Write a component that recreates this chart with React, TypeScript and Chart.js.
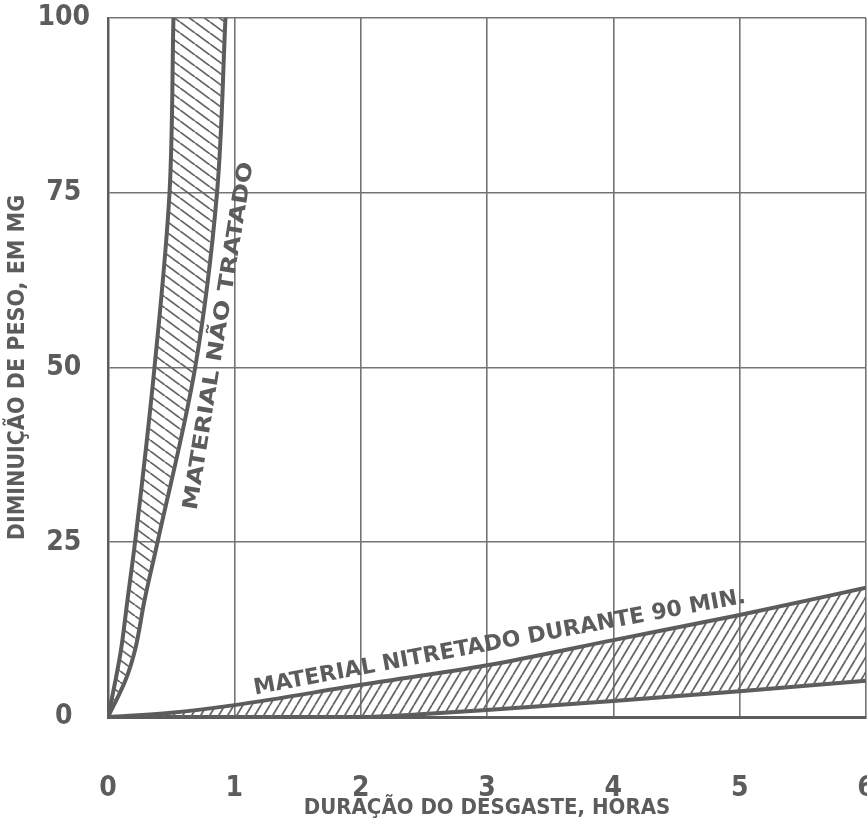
import React, { useEffect, useRef } from "react";
import { Chart, registerables } from "chart.js";

Chart.register(...registerables);

// ---- data ----
const xTickValues = [0, 1, 2, 3, 4, 5, 6];
const yTickValues = [0, 25, 50, 75, 100];

// "Material não tratado" band: steep edge and outer edge (x = hours, y = mg)
const untreatedSteep = [
  { x: 0, y: 0 },
  { x: 0.06, y: 5.3 },
  { x: 0.103, y: 9.6 },
  { x: 0.154, y: 16.7 },
  { x: 0.214, y: 25 },
  { x: 0.368, y: 50 },
  { x: 0.487, y: 75 },
  { x: 0.518, y: 100 },
];
const untreatedOuter = [
  { x: 0, y: 0 },
  { x: 0.139, y: 5.3 },
  { x: 0.214, y: 9.6 },
  { x: 0.289, y: 16.7 },
  { x: 0.392, y: 25 },
  { x: 0.69, y: 50 },
  { x: 0.863, y: 75 },
  { x: 0.93, y: 100 },
];

// "Material nitretado durante 90 min" band
const nitridedUpper = [
  { x: 0, y: 0 },
  { x: 0.5, y: 0.6 },
  { x: 1, y: 1.7 },
  { x: 2, y: 4.6 },
  { x: 3, y: 7.4 },
  { x: 4, y: 11.0 },
  { x: 5, y: 14.6 },
  { x: 6, y: 18.5 },
];
const nitridedLower = [
  { x: 0, y: 0 },
  { x: 2, y: 0 },
  { x: 2.47, y: 0.4 },
  { x: 3, y: 1.0 },
  { x: 4, y: 2.3 },
  { x: 5, y: 3.7 },
  { x: 6, y: 5.2 },
];

const xTitle = "DURAÇÃO DO DESGASTE, HORAS";
const yTitle = "DIMINUIÇÃO DE PESO, EM MG";
const labelUntreated = "MATERIAL NÃO TRATADO";
const labelNitrided = "MATERIAL NITRETADO DURANTE 90 MIN.";

// ---- styles ----
const INK = "#5c5c5c";
const GRID = "#747474";
const FONT = "'Liberation Sans Narrow', 'DejaVu Sans Condensed', 'Roboto', sans-serif";

const bandLabels = [
  { text: labelUntreated, x: 0.88, y: 54.5, angle: -80.8, width: 352, size: 21 },
  { text: labelNitrided, x: 3.1, y: 10.6, angle: -10.6, width: 500, size: 22 },
];

function makeHatch(w: number, h: number, dir: number) {
  const c = document.createElement("canvas");
  c.width = w;
  c.height = h;
  const g = c.getContext("2d")!;
  g.strokeStyle = "#666666";
  g.lineWidth = 1.8;
  g.beginPath();
  for (const k of [-w, 0, w]) {
    if (dir > 0) {
      g.moveTo(k, h);
      g.lineTo(k + w, 0);
    } else {
      g.moveTo(k, 0);
      g.lineTo(k + w, h);
    }
  }
  g.stroke();
  return g.createPattern(c, "repeat")!;
}

const labelPlugin = {
  id: "bandLabels",
  afterDatasetsDraw(chart: any) {
    const { ctx, scales } = chart;
    const xs = scales.x;
    const ys = scales.y;
    for (const a of bandLabels) {
      const px = xs.getPixelForValue(a.x);
      const py = ys.getPixelForValue(a.y);
      ctx.save();
      ctx.translate(px, py);
      ctx.rotate((a.angle * Math.PI) / 180);
      ctx.font = `bold ${a.size}px ${FONT}`;
      ctx.fillStyle = INK;
      ctx.textAlign = "center";
      ctx.textBaseline = "middle";
      const m = ctx.measureText(a.text).width;
      ctx.scale(a.width / m, 1);
      ctx.fillText(a.text, 0, 0);
      ctx.restore();
    }
  },
};

export default function App() {
  const ref = useRef<HTMLCanvasElement | null>(null);

  useEffect(() => {
    if (!ref.current) return;
    const hatchBack = makeHatch(15, 11, -1);
    const hatchFwd = makeHatch(9, 15, 1);

    const lineBase = {
      borderColor: INK,
      borderWidth: 4,
      pointRadius: 0,
      cubicInterpolationMode: "monotone" as const,
    };

    const chart = new Chart(ref.current, {
      type: "line",
      data: {
        datasets: [
          {
            ...lineBase,
            indexAxis: "y",
            label: "steep",
            data: untreatedSteep,
            fill: "+1",
            backgroundColor: hatchBack,
          },
          { ...lineBase, indexAxis: "y", label: "outer", data: untreatedOuter, fill: false },
          {
            ...lineBase,
            label: "nitUpper",
            data: nitridedUpper,
            fill: "+1",
            backgroundColor: hatchFwd,
          },
          { ...lineBase, label: "nitLower", data: nitridedLower, fill: false },
        ] as any,
      },
      options: {
        animation: false,
        responsive: false,
        devicePixelRatio: 1,
        layout: { autoPadding: false, padding: { left: 0, top: 18, right: 24, bottom: 0 } },
        plugins: { legend: { display: false }, tooltip: { enabled: false } },
        scales: {
          x: {
            type: "linear",
            min: 0,
            max: 6,
            afterBuildTicks: (s: any) => {
              s.ticks = xTickValues.map((v) => ({ value: v }));
            },
            afterFit: (s: any) => {
              s.height = 114;
              s.paddingLeft = 0;
              s.paddingRight = 0;
            },
            grid: { color: GRID, lineWidth: 1.6, drawTicks: false },
            border: { color: INK, width: 3 },
            ticks: {
              color: INK,
              padding: 55,
              font: { family: FONT, size: 28, weight: "bold" },
            },
            title: {
              display: true,
              text: xTitle,
              color: INK,
              padding: { top: 0, bottom: 10 },
              font: { family: FONT, size: 22, weight: "bold" },
            },
          },
          y: {
            type: "linear",
            min: 0,
            max: 100,
            afterBuildTicks: (s: any) => {
              s.ticks = yTickValues.map((v) => ({ value: v }));
            },
            afterFit: (s: any) => {
              s.width = 108;
              s.paddingTop = 0;
              s.paddingBottom = 0;
            },
            grid: { color: GRID, lineWidth: 1.6, drawTicks: false },
            border: { color: INK, width: 2.5 },
            ticks: {
              color: INK,
              padding: 18,
              crossAlign: "center",
              font: { family: FONT, size: 28, weight: "bold" },
            },
            title: {
              display: true,
              text: yTitle,
              color: INK,
              padding: { top: 4, bottom: 0 },
              font: { family: FONT, size: 23, weight: "bold" },
            },
          },
        },
      },
      plugins: [labelPlugin],
    });
    return () => chart.destroy();
  }, []);

  return (
    <div
      style={{
        position: "absolute",
        left: 0,
        top: 0,
        width: 867,
        height: 831,
        overflow: "hidden",
        background: "#fff",
      }}
    >
      <canvas ref={ref} width={890} height={831} style={{ display: "block" }} />
    </div>
  );
}
